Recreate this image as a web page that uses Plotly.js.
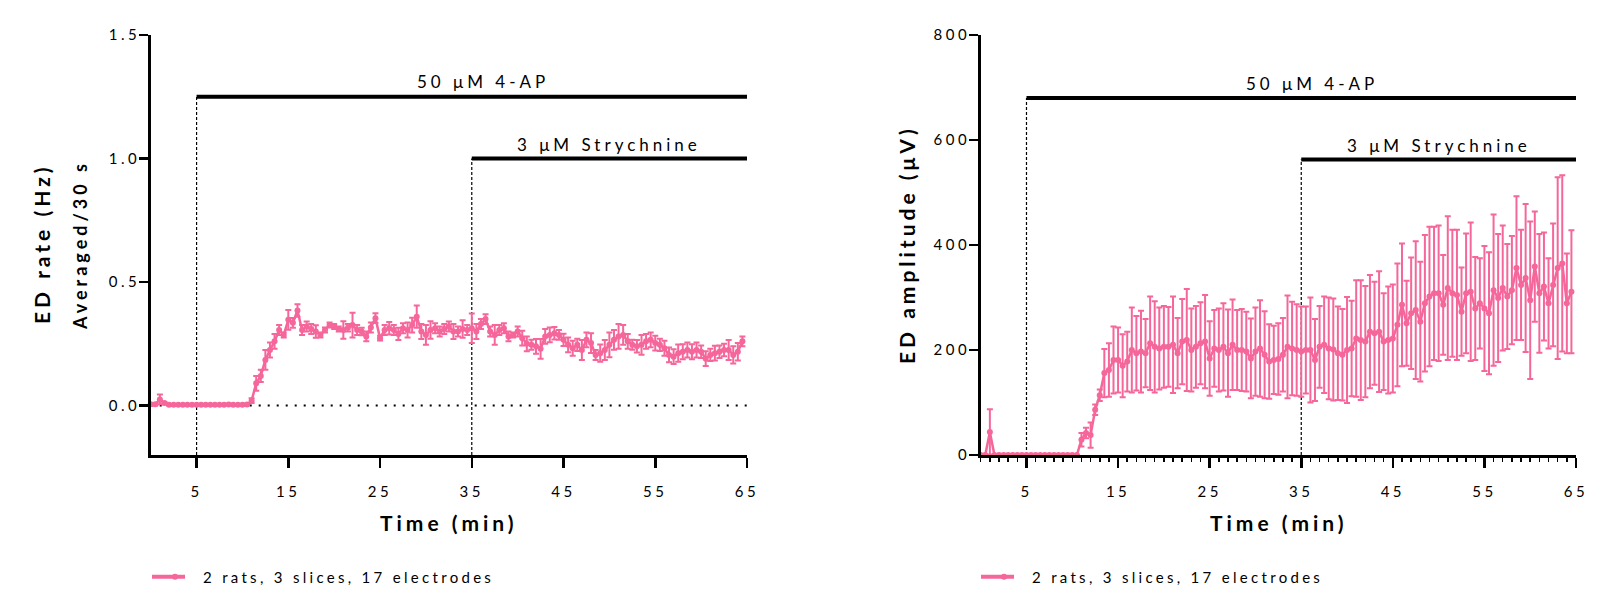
<!DOCTYPE html>
<html>
<head>
<meta charset="utf-8">
<script src="https://cdn.plot.ly/plotly-3.0.1.min.js"></script>
<style>
html,body{margin:0;padding:0;background:#fff;}
#chart{width:1616px;height:614px;}
.xtick text, .ytick text, .x2tick text, .y2tick text{letter-spacing:3.5px;}
.annotation-text{letter-spacing:4px;}
.legendlines path{stroke-width:4px !important; stroke-dasharray:33px 200px !important;}
</style>
</head>
<body>
<div id="chart"></div>
<script>
// Time (min), one point per 30 s
const timeMin = [0,0.5,1,1.5,2,2.5,3,3.5,4,4.5,5,5.5,6,6.5,7,7.5,8,8.5,9,9.5,10,10.5,
  11,11.5,12,12.5,13,13.5,14,14.5,15,15.5,16,16.5,17,17.5,18,18.5,19,19.5,20,20.5,
  21,21.5,22,22.5,23,23.5,24,24.5,25,25.5,26,26.5,27,27.5,28,28.5,29,29.5,30,30.5,
  31,31.5,32,32.5,33,33.5,34,34.5,35,35.5,36,36.5,37,37.5,38,38.5,39,39.5,40,40.5,
  41,41.5,42,42.5,43,43.5,44,44.5,45,45.5,46,46.5,47,47.5,48,48.5,49,49.5,50,50.5,
  51,51.5,52,52.5,53,53.5,54,54.5,55,55.5,56,56.5,57,57.5,58,58.5,59,59.5,60,60.5,
  61,61.5,62,62.5,63,63.5,64,64.5];

// ED rate (Hz), mean and SEM
const rateMean = [0.005,0.005,0.025,0.01,0.003,0.003,0.003,0.003,0.003,0.003,0.003,0.003,0.003,0.003,0.003,0.003,0.003,0.004,0.003,0.003,0.003,0.004,
  0.02,0.09,0.12,0.185,0.225,0.26,0.306,0.286,0.347,0.335,0.385,0.306,0.32,0.31,0.30,0.286,0.306,0.326,0.32,0.31,
  0.306,0.315,0.326,0.306,0.30,0.28,0.316,0.354,0.273,0.306,0.313,0.306,0.29,0.313,0.306,0.326,0.36,0.30,0.286,0.306,
  0.313,0.30,0.31,0.32,0.30,0.30,0.31,0.306,0.313,0.30,0.33,0.35,0.30,0.286,0.306,0.313,0.28,0.286,0.30,0.273,
  0.25,0.246,0.24,0.23,0.28,0.286,0.293,0.286,0.266,0.246,0.232,0.246,0.225,0.266,0.253,0.205,0.212,0.225,0.246,0.266,
  0.28,0.286,0.26,0.246,0.24,0.246,0.26,0.266,0.253,0.246,0.232,0.205,0.198,0.212,0.218,0.225,0.218,0.225,0.218,0.19,
  0.205,0.212,0.218,0.225,0.225,0.205,0.218,0.26];
const rateErr = [0.005,0.005,0.02,0.005,0.003,0.003,0.003,0.003,0.003,0.003,0.003,0.003,0.003,0.003,0.003,0.003,0.003,0.003,0.003,0.003,0.003,0.003,
  0.01,0.03,0.025,0.04,0.03,0.03,0.02,0.01,0.04,0.02,0.025,0.02,0.02,0.02,0.025,0.01,0.01,0.01,0.01,0.01,
  0.035,0.015,0.05,0.02,0.015,0.02,0.02,0.02,0.01,0.02,0.025,0.02,0.025,0.02,0.03,0.03,0.045,0.03,0.04,0.035,
  0.02,0.02,0.02,0.02,0.03,0.02,0.035,0.02,0.06,0.03,0.02,0.02,0.02,0.04,0.02,0.02,0.02,0.01,0.02,0.03,
  0.03,0.02,0.03,0.04,0.03,0.03,0.025,0.02,0.025,0.03,0.03,0.025,0.04,0.03,0.04,0.02,0.035,0.04,0.05,0.04,
  0.05,0.04,0.03,0.02,0.025,0.04,0.03,0.03,0.03,0.025,0.03,0.03,0.03,0.035,0.03,0.03,0.03,0.03,0.025,0.03,
  0.025,0.03,0.025,0.025,0.04,0.035,0.035,0.02];

// ED amplitude (µV), mean and SEM
const ampMean = [0,0,44,0,0,0,0,0,0,0,0,0,0,0,0,0,0,0,0,0,0,0,
  29,42,38,86,114,156,162,181,181,170,178,200,194,197,194,213,206,203,206,206,
  210,194,216,219,200,206,213,216,184,203,200,206,194,210,200,200,197,184,197,203,
  191,178,181,183,191,206,203,200,197,200,200,181,206,210,203,201,194,191,200,203,
  222,219,216,235,232,235,216,219,222,248,286,251,270,276,254,289,302,308,308,286,
  318,308,305,273,308,311,279,289,279,270,314,299,318,302,314,356,324,337,295,359,
  308,321,289,324,356,365,289,311];
const ampErr = [0,0,43,0,0,0,0,0,0,0,0,0,0,0,0,0,0,0,0,0,0,0,
  13,10,24,10,11,46,51,64,62,60,57,81,71,78,65,89,87,78,78,76,
  92,67,81,97,79,78,78,89,71,73,79,83,83,86,76,78,76,76,84,92,
  83,71,65,68,70,98,89,87,86,83,100,78,78,92,97,97,89,87,101,91,
  111,114,106,108,98,115,92,102,103,117,117,81,106,131,114,130,133,127,129,95,
  137,121,124,84,114,132,98,86,119,116,144,122,119,100,103,137,105,141,150,105,
  113,103,86,117,173,168,95,117];

const seriesName = '2 rats, 3 slices, 17 electrodes';
const pink = '#F5669A';
const FONT = 'Lato, Open Sans, sans-serif';

function trace(y, err, xa, ya, legendId) {
  return {
    x: timeMin, y: y, xaxis: xa, yaxis: ya, type: 'scatter', mode: 'lines+markers',
    name: '<span style="letter-spacing:3.3px">' + seriesName + '</span>',
    legend: legendId, cliponaxis: false,
    line: {color: pink, width: 2.5},
    marker: {color: pink, size: 6, symbol: 'circle'},
    error_y: {type: 'data', array: err, visible: true, color: pink, thickness: 2, width: 3}
  };
}

const data = [
  trace(rateMean, rateErr, 'x', 'y', 'legend'),
  trace(ampMean, ampErr, 'x2', 'y2', 'legend2')
];

const axisBase = {
  showline: true, linecolor: '#000', linewidth: 2.5, showgrid: false, zeroline: false,
  ticks: 'outside', tickwidth: 2.5, tickcolor: '#000',
  tickfont: {family: FONT, size: 15, color: '#000'}, fixedrange: true
};
const xBase = Object.assign({}, axisBase, {ticklen: 10, ticklabelstandoff: 11, range: [0, 65], tickvals: [5, 15, 25, 35, 45, 55, 65]});
const yBase = Object.assign({}, axisBase, {ticklen: 9, ticklabelstandoff: -4});

const H = 614, W = 1616;
const yDom = [1 - 455 / H, 1 - 35 / H];

const legendBase = {y: 1 - 577 / H, xanchor: 'left', yanchor: 'middle', bgcolor: 'rgba(0,0,0,0)',
  itemwidth: 46, font: {family: FONT, size: 15, color: '#000'}};

function ann(xref, yref, x, y, text, size, extra) {
  return Object.assign({xref: xref, yref: yref, x: x, y: y, text: text, showarrow: false,
    xanchor: 'center', yanchor: 'middle', font: {family: FONT, size: size, color: '#000'}}, extra || {});
}

const layout = {
  width: W, height: H, margin: {l: 0, r: 0, t: 0, b: 0},
  paper_bgcolor: '#fff', plot_bgcolor: 'rgba(0,0,0,0)',
  font: {family: FONT, color: '#000'},
  xaxis: Object.assign({}, xBase, {domain: [150.7 / W, 747 / W], anchor: 'y'}),
  yaxis: Object.assign({}, yBase, {domain: yDom, range: [-0.2, 1.5], tickvals: [0, 0.5, 1.0, 1.5], tickformat: '.1f', anchor: 'x'}),
  xaxis2: Object.assign({}, xBase, {domain: [980.7 / W, 1576 / W], anchor: 'y2',
    minor: {ticks: 'outside', ticklen: 4, tickwidth: 1.5, tickcolor: '#000', dtick: 1, tick0: 0}}),
  yaxis2: Object.assign({}, yBase, {domain: yDom, range: [0, 800], tickvals: [0, 200, 400, 600, 800], anchor: 'x2'}),
  showlegend: true,
  legend: Object.assign({}, legendBase, {x: 147 / W}),
  legend2: Object.assign({}, legendBase, {x: 976 / W}),
  shapes: [
    // left panel
    {type: 'line', xref: 'x', yref: 'y', x0: 0, x1: 65, y0: 0, y1: 0, line: {color: '#000', width: 2, dash: '2px,7px'}, layer: 'below'},
    {type: 'line', xref: 'x', yref: 'y', x0: 5, x1: 5, y0: -0.2, y1: 1.25, line: {color: '#000', width: 1.2, dash: '3px,2px'}, layer: 'below'},
    {type: 'line', xref: 'x', yref: 'y', x0: 35, x1: 35, y0: -0.2, y1: 1.0, line: {color: '#000', width: 1.2, dash: '3px,2px'}, layer: 'below'},
    {type: 'line', xref: 'x', yref: 'y', x0: 5, x1: 65, y0: 1.25, y1: 1.25, line: {color: '#000', width: 4}},
    {type: 'line', xref: 'x', yref: 'y', x0: 35, x1: 65, y0: 1.0, y1: 1.0, line: {color: '#000', width: 4}},
    // right panel
    {type: 'line', xref: 'x2', yref: 'y2', x0: 5, x1: 5, y0: 0, y1: 680, line: {color: '#000', width: 1.2, dash: '3px,2px'}, layer: 'below'},
    {type: 'line', xref: 'x2', yref: 'y2', x0: 35, x1: 35, y0: 0, y1: 563, line: {color: '#000', width: 1.2, dash: '3px,2px'}, layer: 'below'},
    {type: 'line', xref: 'x2', yref: 'y2', x0: 5, x1: 65, y0: 680, y1: 680, line: {color: '#000', width: 4}},
    {type: 'line', xref: 'x2', yref: 'y2', x0: 35, x1: 65, y0: 563, y1: 563, line: {color: '#000', width: 4}}
  ],
  annotations: [
    ann('x', 'y', 36.2, 1.25, '50 μM 4-AP', 17, {yshift: 15}),
    ann('x', 'y', 50, 1.0, '3 μM Strychnine', 17, {yshift: 14}),
    ann('x2', 'y2', 36.2, 680, '50 μM 4-AP', 17, {yshift: 15}),
    ann('x2', 'y2', 50, 563, '3 μM Strychnine', 17, {yshift: 14}),
    // axis titles
    ann('paper', 'paper', 449 / W, 1 - 522 / H, '<b>Time (min)</b>', 21),
    ann('paper', 'paper', 1279 / W, 1 - 522 / H, '<b>Time (min)</b>', 21),
    ann('paper', 'paper', 42 / W, 1 - 244 / H, '<b>ED rate (Hz)</b>', 21, {textangle: -90}),
    ann('paper', 'paper', 80 / W, 1 - 245 / H, '<b>Averaged/30 s</b>', 18, {textangle: -90}),
    ann('paper', 'paper', 907 / W, 1 - 245 / H, '<b>ED amplitude (μV)</b>', 21, {textangle: -90})
  ]
};

Plotly.newPlot('chart', data, layout, {displayModeBar: false, staticPlot: true});
</script>
</body>
</html>
